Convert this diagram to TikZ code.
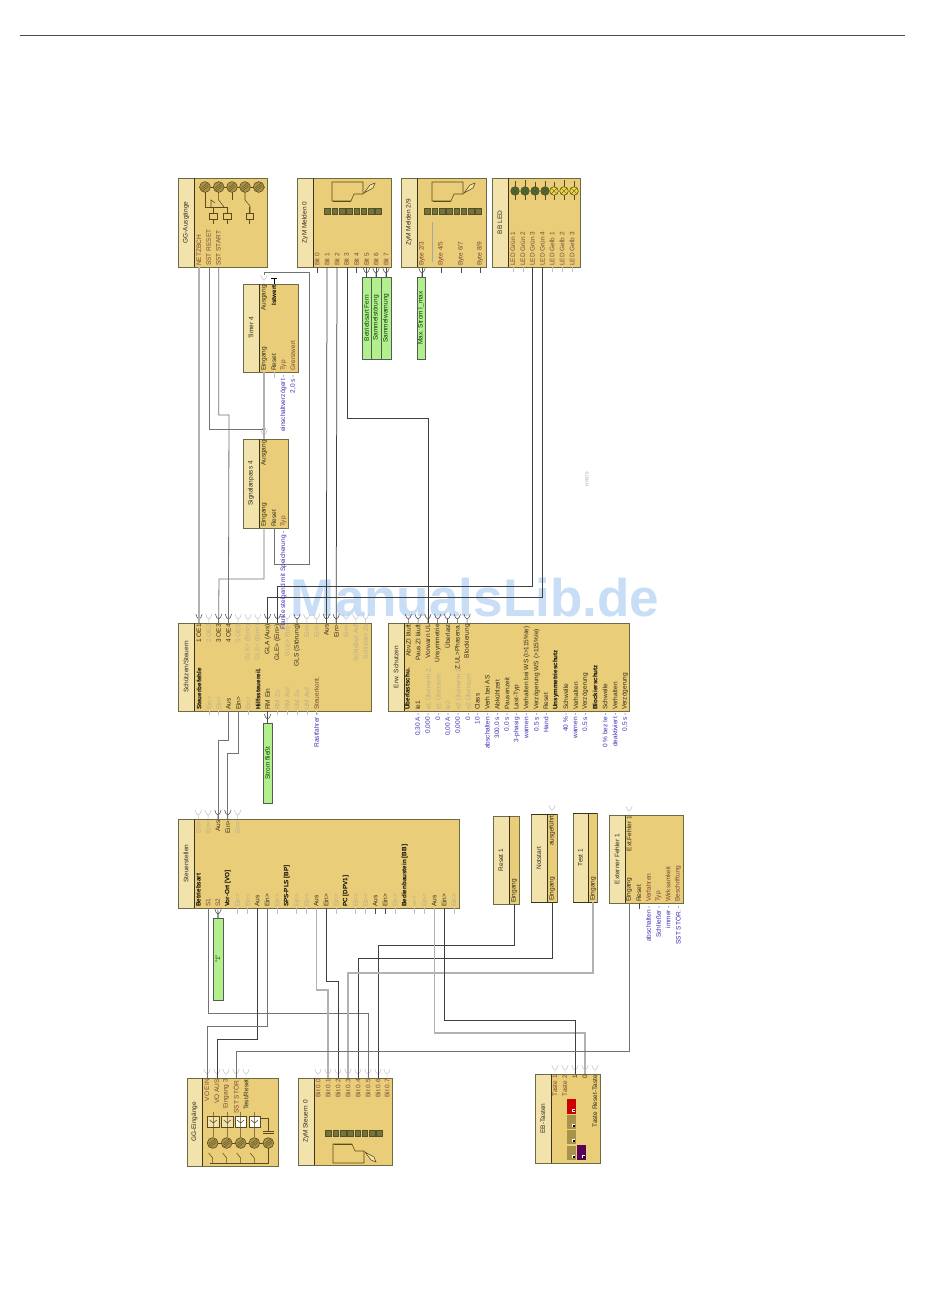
\documentclass[tikz,border=0pt]{standalone}
\usepackage{fontspec}
\setmainfont{Liberation Sans}
\definecolor{bodyc}{HTML}{E9CD78}
\definecolor{titlec}{HTML}{F2E2AC}
\definecolor{edgec}{HTML}{6E6A48}
\definecolor{divc}{HTML}{3A3518}
\definecolor{greyl}{HTML}{B9AF8A}
\definecolor{brownl}{HTML}{7B4A3A}
\definecolor{darkl}{HTML}{332E1E}
\definecolor{bluel}{HTML}{3B2FB5}
\definecolor{greenb}{HTML}{B2F08E}
\definecolor{oliveb}{HTML}{A8924A}
\definecolor{squarec}{HTML}{76733A}
\definecolor{iconl}{HTML}{5A4A1C}
\definecolor{wmark}{HTML}{C8DDF6}
\newcount\nodenum
\tikzset{
  lbl/.style={font=\fontsize{6.5}{6.5}\selectfont,rotate=90,inner sep=0pt,text=darkl},
  dk/.style={text=darkl},
  gy/.style={text=greyl},
  br/.style={text=brownl},
  bl/.style={text=bluel},
  bo/.style={text=black,font=\fontsize{6.3}{6.3}\selectfont\bfseries},
  wd/.style={draw=black!75,line width=.75pt},
  wm/.style={draw=black!55,line width=.8pt},
  wl/.style={draw=black!30,line width=1.1pt},
  pinl/.style={draw=black!25,line width=.45pt},
  pind/.style={draw=black!70,line width=.55pt},
  icon/.style={draw=iconl,line width=.55pt},
}
% block: name x1 y1 x2 y2 xdiv title
\newcommand\Blk[7]{%
  \fill[titlec] (#2,#3) rectangle (#6,#5);
  \fill[bodyc] (#6,#3) rectangle (#4,#5);
  \draw[edgec,line width=.8pt] (#2,#3) rectangle (#4,#5);
  \draw[divc,line width=.9pt] (#6,#3) -- (#6,#5);
  \node[lbl,text=darkl] (#1) at ({(#2+#6)/2},{(#3+#5)/2}) {#7};
}
% labels: style x y text
\newcommand\Lb[4]{\global\advance\nodenum by 1
  \node[lbl,#1,anchor=west] (t\the\nodenum) at ({#2},{#3}) {#4};}
\newcommand\Lt[4]{\global\advance\nodenum by 1
  \node[lbl,#1,anchor=east] (t\the\nodenum) at ({#2},{#3}) {#4};}
% input pin (fork) name x y style
\newcommand\Pin[4]{%
  \coordinate (#1) at ({#2},{#3});
  \draw[#4] ({#2},{#3}) -- ({#2},{#3-4})
    ({#2-3.2},{#3-9}) .. controls ({#2-3},{#3-6}) and ({#2-1},{#3-4.5}) .. ({#2},{#3-4})
    ({#2+3.2},{#3-9}) .. controls ({#2+3},{#3-6}) and ({#2+1},{#3-4.5}) .. ({#2},{#3-4});
}
\newcommand\Green[6]{%
  \fill[greenb] (#2,#3) rectangle (#4,#5);
  \draw[black!65,line width=.7pt] (#2,#3) rectangle (#4,#5);
  \node[lbl,text=green!25!black] (#1) at ({(#2+#4)/2},{(#3+#5)/2}) {#6};
}
\newcommand\Device[1]{%
  \begin{scope}[#1]
    \draw[icon] (0,0) -- (31,0) -- (31,12) -- (22,12) -- (19,19) -- (0,19) -- cycle;
    \draw[icon,line width=1pt] (1,19) -- (19,19);
    \draw[icon,fill=titlec] (32,11) -- (38,3) -- (43,1) -- (41,6) -- cycle;
  \end{scope}
}
\newcommand\Button[5]{%
  \fill[#5] (#1,#2) rectangle (#3,#4);
  \fill[white] (#3-4,#4-5) rectangle (#3-1,#4-2);
  \fill[black] (#3-3,#4-4) rectangle (#3-1.5,#4-2.5);
}
\begin{document}
\begin{tikzpicture}[x=1pt,y=-1pt]
\path[use as bounding box,fill=white] (0,0) rectangle (950,1302);
\draw[black!70,line width=.9pt] (20,35.5) -- (905,35.5);
\node[font=\fontsize{53}{53}\selectfont\bfseries,text=wmark,inner sep=0pt] (wm) at (475,598) {ManualsLib.de};
\node[lbl,font=\fontsize{4.5}{5}\selectfont,text=black!35] (ref) at (587,479) {HR579};

%%%% blocks
\Blk{ga}{178}{178}{267}{267}{194}{GG-Ausgänge}
\Blk{m0}{297}{178}{391}{267}{313}{ZyM Melden 0}
\Blk{m2}{401}{178}{486}{267}{417}{ZyM Melden 2/9}
\Blk{led}{492}{178}{580}{267}{508}{BB LED}
\Blk{tim}{243}{284}{298}{372}{259}{Timer 4}
\Blk{sig}{243}{439}{288}{528}{259}{Signalanpass 4}
\Blk{sch}{178}{623}{371}{711}{194}{Schützen/Steuern}
\Blk{err}{388}{623}{629}{711}{404}{Erw. Schutzen}
\Blk{st}{178}{819}{459}{908}{194}{Steuerstellen}
\Blk{rst}{493}{816}{519}{904}{509}{Reset 1}
\Blk{nts}{531}{814}{557}{902}{547}{Notstart}
\Blk{tst}{573}{813}{597}{902}{588}{Test 1}
\Blk{ext}{609}{815}{683}{903}{625}{Externer Fehler 1}
\Blk{ge}{187}{1078}{278}{1166}{202}{GG-Eingänge}
\Blk{zs}{298}{1078}{392}{1165}{314}{ZyM Steuern 0}
\Blk{eb}{535}{1074}{600}{1163}{551}{EB-Tasten}
\draw[divc,line width=.8pt] (531,814) -- (557,814) (531,902) -- (557,902);
\draw[divc,line width=.8pt] (573,813) -- (597,813) (573,902) -- (597,902);

%%%% green boxes
\Green{gBF}{362}{277}{371}{359}{Betriebsart Fern}
\Green{gSS}{371}{277}{381}{359}{Sammelstörung}
\Green{gSW}{381}{277}{391}{359}{Sammelwarnung}
\Green{gMax}{417}{277}{425}{359}{Max. Strom I\_max}
\Green{gStr}{263}{723}{272}{803}{Strom fließt}
\Green{gEins}{213}{918}{223}{1000}{"1"}

%%%% pins
\coordinate (gaN) at (199,267); \coordinate (gaR) at (209,267); \coordinate (gaS) at (218.7,267);
\foreach \i/\x in {0/317,1/327,2/337,3/347,4/356.5,5/366.5,6/376,7/386}{\coordinate (m0B\i) at (\x,267);}
\foreach \x in {317,356.5}{\draw[pind] (\x,267) -- (\x,273);}
\foreach \x in {366.5,376,386}{\draw[pind] (\x,267) -- (\x,277);}
\Pin{pBF}{366.5}{277}{pind}\Pin{pSS}{376}{277}{pind}\Pin{pSW}{386}{277}{pind}
\draw[pind] (422,267) -- (422,277); \Pin{pMx}{422}{277}{pind}
\foreach \x in {441,461,480}{\draw[pind] (\x,267) -- (\x,273);}
\foreach \x in {513,523,552,562,572}{\draw[pinl] (\x,267) -- (\x,272);}
\coordinate (ledG3) at (532.5,267); \coordinate (ledG4) at (542.5,267);
% Timer / Signal
\Pin{timA}{264}{284}{pinl}
\draw[black,line width=1pt] (274,278) -- (274,284) (271,278) -- (277,278);
\coordinate (timE) at (264,372); \draw[pinl] (274,372) -- (274,378);
\Pin{sigA}{264}{439}{pinl}
\coordinate (sigE) at (264,528); \coordinate (sigR) at (274,528);
% Schuetzen top
\foreach \i in {1,...,18}{\coordinate (schT\i) at ({199+(\i-1)*9.8},623);}
\foreach \i in {2,5,6,7,10,12,13,16,17,18}{\Pin{pa\i}{199+(\i-1)*9.8}{623}{pinl}}
\foreach \i in {1,3,4,8,9,11,14,15}{\Pin{pb\i}{199+(\i-1)*9.8}{623}{pind}}
% Schuetzen bottom
\foreach \i in {0,...,13}{\coordinate (schB\i) at ({199+\i*9.8},711);}
\foreach \i in {1,2,5,8,9,10,11,12}{\draw[pinl] ({199+\i*9.8},711) -- ({199+\i*9.8},715);}
\draw[pind] (267.6,711) -- (267.6,723); \Pin{pStr}{267.6}{723}{pind}
% Err top
\foreach \i in {1,...,7}{\coordinate (errT\i) at ({408.3+(\i-1)*9.8},623);\Pin{pe\i}{408.3+(\i-1)*9.8}{623}{pind}}
% Steuer top and bottom
\foreach \i in {0,...,4}{\coordinate (stT\i) at ({198.3+\i*9.83},819);}
\foreach \i in {0,1,4}{\Pin{ps\i}{198.3+\i*9.83}{819}{pinl}}
\foreach \i in {2,3}{\Pin{ps\i}{198.3+\i*9.83}{819}{pind}}
\foreach \i in {0,...,26}{\coordinate (stB\i) at ({198.3+\i*9.83},908);}
\foreach \i in {4,5,8,10,11,14,16,17,20,22,23,26}{\draw[pinl] ({198.3+\i*9.83},908) -- ({198.3+\i*9.83},914);}
\foreach \i in {18,19}{\draw[pind] ({198.3+\i*9.83},908) -- ({198.3+\i*9.83},914);}
\draw[pind] (stB2) -- (218,918); \Pin{pEins}{218}{918}{pind}
% single blocks
\coordinate (rstE) at (514,904); \coordinate (notE) at (552,902); \coordinate (tstE) at (593,902);
\coordinate (extE) at (629,903); \draw[pind] (639,903) -- (639,909);
\Pin{pNot}{552}{814}{pinl}\Pin{pExt}{629}{815}{pinl}
% Eingaenge
\foreach \i/\x in {1/207,2/217,3/226,4/236,5/246}{\coordinate (geB\i) at (\x,1078);\Pin{pg\i}{\x}{1078}{pinl}}
\foreach \i/\x in {0/318,1/328,2/338,3/348,4/358,5/368,6/378,7/387}{\coordinate (zsB\i) at (\x,1078);\Pin{pz\i}{\x}{1078}{pinl}}
\foreach \i/\x in {1/555,2/565,3/575,4/585,5/595}{\coordinate (ebB\i) at (\x,1074);\Pin{pq\i}{\x}{1074}{pinl}}

%%%% wires
\draw[wl] (gaN) -- (schT1);
\draw[wm] (gaR) |- (264,429) -- (sigA);
\fill[black] (264,429) circle (1.6);
\draw[wl] (timE) -- (sigA);
\draw[wm] (gaS) |- (229,415) -- (schT4);
\draw[wm] (sigE) |- (219,579) -- (schT3);
\draw[wm] (264,275) -- (264,272) -- (309,272) -- (309,564) -- (274,564) -- (sigR);
\draw[wd] (m0B1) -- (schT14);
\draw[wd] (m0B2) -- (schT15);
\draw[wd] (m0B3) -- (m0B3 |- 0,418) -| (errT3);
\draw[wd] (ledG3) -- (ledG3 |- 0,586) -| (schT9);
\draw[wd] (ledG4) -- (ledG4 |- 0,597) -| (schT8);
\draw[wm] (schB3) -- (schB3 |- 0,740) -| (stT2);
\draw[wm] (schB4) -- (schB4 |- 0,753) -| (stT3);
\draw[wm] (stB1) -- (stB1 |- 0,1013) -| (zsB5);
\draw[wd] (stB6) -- (stB6 |- 0,1039) -| (geB2);
\draw[wm] (stB7) -- (stB7 |- 0,1026) -| (geB1);
\draw[wl] (stB12) -- (stB12 |- 0,990) -| (zsB1);
\draw[wd] (stB13) -- (stB13 |- 0,981) -| (zsB2);
\draw[wd] (rstE) -- (rstE |- 0,945) -| (zsB6);
\draw[wd] (notE) -- (notE |- 0,958) -| (zsB4);
\draw[wl] (tstE) -- (tstE |- 0,973) -| (zsB3);
\draw[wl] (stB24) -- (stB24 |- 0,1033) -| (ebB4);
\draw[wd] (stB25) -- (stB25 |- 0,1020) -| (ebB3);
\draw[wm] (extE) -- (extE |- 0,1051) -| (geB4);

%%%% labels GG-Ausgaenge
\Lb{br}{199}{266}{NETZBCH}\Lb{br}{208.7}{266}{SST RESET}\Lb{br}{218.5}{266}{SST START}
%%%% Melden 0
\foreach \i/\x in {0/317,1/327,2/337,3/346.5,4/356.5,5/366.5,6/376,7/386}{\Lb{br}{\x}{266}{Bit \i}}
%%%% Melden 2/9
\Lb{br}{422}{266}{Byte 2/3}\Lb{br}{441}{266}{Byte 4/5}\Lb{br}{461}{266}{Byte 6/7}\Lb{br}{480}{266}{Byte 8/9}
%%%% LED
\Lb{br}{513}{266}{LED Grün 1}\Lb{br}{523}{266}{LED Grün 2}\Lb{br}{532.5}{266}{LED Grün 3}\Lb{br}{542.5}{266}{LED Grün 4}
\Lb{br}{552}{266}{LED Gelb 1}\Lb{br}{562}{266}{LED Gelb 2}\Lb{br}{572}{266}{LED Gelb 3}
%%%% Timer
\Lt{dk}{264}{285}{Ausgang}\Lt{bo}{274}{285}{Istwert}
\Lb{dk}{264}{371}{Eingang}\Lb{dk}{274}{371}{Reset}\Lb{br}{283.5}{371}{Typ}\Lb{br}{293}{371}{Grenzwert}
\Lt{bl}{283.5}{375}{einschaltverzögert -}\Lt{bl}{293}{375}{2,0 s -}
%%%% Signal
\Lt{dk}{264}{440}{Ausgang}
\Lb{dk}{264}{527}{Eingang}\Lb{dk}{274}{527}{Reset}\Lb{br}{283.5}{527}{Typ}
\Lt{bl}{283.5}{531}{Flanke steigend mit Speicherung -}
%%%% Schuetzen top
\Lt{dk}{199}{624}{1 OE1}\Lt{gy}{208.8}{624}{2 OE2}\Lt{dk}{218.6}{624}{3 OE3}\Lt{dk}{228.4}{624}{4 OE4}\Lt{gy}{238.2}{624}{5 OE5}
\Lt{gy}{248}{624}{GLE> (Ein>)}\Lt{gy}{257.8}{624}{GLE< (Ein<)}\Lt{dk}{267.6}{624}{GLA (Aus)}\Lt{dk}{277.4}{624}{GLE> (Ein>)}
\Lt{gy}{287.2}{624}{GLE> Ein>}\Lt{dk}{297}{624}{GLS (Störung)}\Lt{gy}{306.8}{624}{Ein>}\Lt{gy}{316.6}{624}{Ein<}
\Lt{dk}{326.4}{624}{Aus}\Lt{dk}{336.2}{624}{Ein>}\Lt{gy}{346}{624}{Ein>}\Lt{gy}{355.8}{624}{Schieber Auf}\Lt{gy}{365.6}{624}{Schieber Zu}
%%%% Schuetzen bottom
\Lb{bo}{199}{710}{Steuerbefehle}\Lb{gy}{209}{710}{Ein>}\Lb{gy}{218.6}{710}{Ein>}\Lb{dk}{228.4}{710}{Aus}\Lb{dk}{238.2}{710}{Ein>}\Lb{gy}{248}{710}{Ein>}
\Lb{bo}{258}{710}{Hilfssteuereil.}\Lb{dk}{267.6}{710}{RM Ein}\Lb{gy}{277.4}{710}{RM Zu}\Lb{gy}{287.2}{710}{RM Auf}\Lb{gy}{297}{710}{UM Zu}\Lb{gy}{306.8}{710}{UM Auf}
\Lb{br}{316.6}{710}{Steuerkont.}
\Lt{bl}{316.6}{713}{Rastfahrer -}
%%%% Err top
\Lt{dk}{408.3}{624}{Abv.ZI läuft}\Lt{dk}{418.1}{624}{Paus.ZI läuft}\Lt{dk}{427.9}{624}{Vorwarn UL}\Lt{dk}{437.7}{624}{Unsymmetrie}
\Lt{dk}{447.5}{624}{Überlast}\Lt{dk}{457.3}{624}{Z.UL>Phasena.}\Lt{dk}{467.1}{624}{Blockierung}
%%%% Err bottom
\Lb{bo}{407}{710}{Überlastschu.}
\foreach \x/\t/\v/\s in {
 418/{Ie1}/{0,30 A -}/{dk},
 428/{e1 Überwrm Z.}/{0,000 -}/{gy},
 438/{e1 Übersum}/{0 -}/{gy},
 448/{Ie2}/{0,00 A -}/{gy},
 458/{e2 Überwrm Z.}/{0,000 -}/{gy},
 468/{e2 Übersum}/{0 -}/{gy},
 477.3/{Class}/{10 -}/{dk},
 487.3/{Verh bei AS}/{abschalten -}/{dk},
 497.3/{Abkühlzeit}/{300,0 s -}/{dk},
 507/{Pausenzeit}/{0,0 s -}/{dk},
 516.7/{Last-Typ}/{3-phasig -}/{dk},
 526.7/{Verhalten bei WS (I>115\%Ie)}/{warnen -}/{dk},
 536.7/{Verzögerung WS (>115\%Ie)}/{0,5 s -}/{dk},
 546/{Reset}/{Hand -}/{dk},
 565.7/{Schwelle}/{40 \% -}/{dk},
 575.7/{Verhalten}/{warnen -}/{dk},
 585.3/{Verzögerung}/{0,5 s -}/{dk},
 605/{Schwelle}/{0 \% bez Ie -}/{dk},
 615/{Verhalten}/{deaktiviert -}/{dk},
 625/{Verzögerung}/{0,5 s -}/{dk}}{
  \expandafter\Lb\expandafter{\s}{\x}{710}{\t}\Lt{bl}{\x}{713}{\v}}
\Lb{bo}{555.7}{710}{Unsymmetrieschutz}\Lb{bo}{595}{710}{Blockierschutz}
%%%% Steuerstellen top
\Lt{gy}{198.3}{820}{Ein>}\Lt{gy}{208.1}{820}{Ein<}\Lt{dk}{218}{820}{Aus}\Lt{dk}{227.8}{820}{Ein>}\Lt{gy}{237.6}{820}{Ein>}
%%%% Steuerstellen bottom
\foreach \i/\t/\s in {0/{Betriebsart}/bo,1/{S1}/br,2/{S2}/br,3/{Vor-Ort [VO]}/bo,4/{Ein>}/gy,5/{Ein<}/gy,6/{Aus}/dk,7/{Ein>}/dk,8/{Ein>}/gy,
 9/{SPS-PLS [BP]}/bo,10/{Ein>}/gy,11/{Ein<}/gy,12/{Aus}/dk,13/{Ein>}/dk,14/{Ein>}/gy,15/{PC [DPV1]}/bo,16/{Ein>}/gy,17/{Ein<}/gy,18/{Aus}/dk,19/{Ein>}/dk,20/{Ein>}/gy,
 21/{Bedienbaustein [BB]}/bo,22/{<<<<<}/gy,23/{Ein<}/gy,24/{Aus}/dk,25/{Ein>}/dk,26/{Ein>}/gy}{
  \expandafter\Lb\expandafter{\s}{198.3+\i*9.83}{907}{\t}}
%%%% singles
\Lb{dk}{514}{903}{Eingang}
\Lb{dk}{552}{901}{Eingang}\Lt{dk}{552}{815}{ausgeführt}
\Lb{dk}{593}{901}{Eingang}
\Lt{dk}{629}{816}{Ext.Fehler 1}
\Lb{dk}{629}{902}{Eingang}\Lb{dk}{639}{902}{Reset}\Lb{br}{648.5}{902}{Verfahren}\Lb{br}{658.5}{902}{Typ}\Lb{br}{668}{902}{Wirksamkeit}\Lb{br}{678}{902}{Beschriftung}
\Lt{bl}{648.5}{906}{abschalten -}\Lt{bl}{658.5}{906}{Schließer -}\Lt{bl}{668}{906}{immer -}\Lt{bl}{678}{906}{SST STÖR. -}
%%%% bottom blocks labels
\Lt{br}{207}{1079}{VO EIN}\Lt{br}{217}{1079}{VO AUS}\Lt{br}{226}{1079}{Eingang 3}\Lt{br}{236}{1079}{SST STÖR.}\Lt{dk}{246}{1079}{Test/Reset}
\foreach \i/\x in {0/318,1/328,2/338,3/348,4/358,5/368,6/378,7/387}{\Lt{br}{\x}{1079}{Bit 0.\i}}
\Lt{br}{555}{1075}{Taste 1}\Lt{br}{565}{1075}{Taste 2}\Lt{dk}{575}{1075}{1}\Lt{dk}{585}{1075}{0}\Lt{dk}{595}{1075}{Taste Reset-Taste}

%%%% icons: GG-Ausgaenge
\draw[icon] (199,187) -- (265,187);
\foreach \x in {205,218.7,232,245,258.7}{
  \draw[icon,fill=oliveb] (\x,187) circle (5.4);
  \draw[icon,line width=.35pt] (\x-3.5,189.5) -- (\x+3.5,184.5) (\x-2.5,191) -- (\x+3.5,186.5) (\x-3.5,187.5) -- (\x+2.5,183);}
\draw[icon] (205,192) -- (205,207) -- (227,207);
\draw[icon] (218.7,192) -- (218.7,200) -- (224,207);
\draw[icon] (232,192) -- (232,200);
\draw[icon] (211,207) -- (211,200) -- (215,203);
\draw[icon] (245,192) -- (245,200) -- (250,206) -- (250,213);
\foreach \a/\b in {209/217,223/231,246/253}{
  \draw[icon] (\a,213) rectangle (\b,219);
  \draw[icon] ({(\a+\b)/2},207) -- ({(\a+\b)/2},213) ({(\a+\b)/2},219) -- ({(\a+\b)/2},224);}
%%%% icons: Melden
\Device{shift={(332,182)}}
\foreach \k in {0,...,7}{\draw[squarec!70!black,fill=squarec,line width=.3pt] (324.5+\k*7.3,208.5) rectangle +(5.6,5.4);}
\Device{shift={(432,182)}}
\foreach \k in {0,...,7}{\draw[squarec!70!black,fill=squarec,line width=.3pt] (424.5+\k*7.3,208.5) rectangle +(5.6,5.4);}
\draw[black!35,line width=.5pt] (432,222) -- (432,262);
%%%% icons: LED
\foreach \x/\c/\h in {515/4D6A36/181,525/4D6A36/180,535/4D6A36/182,545/4D6A36/181,554/E8D840/182,564/E8D840/180,574/E8D840/181}{
  \definecolor{ledc}{HTML}{\c}
  \draw[icon] (\x,\h) -- (\x,200);
  \draw[icon,fill=ledc] (\x,191) circle (4.3);
  \draw[icon,line width=.35pt] (\x-3,188) -- (\x+3,194) (\x-3,194) -- (\x+3,188);}
%%%% icons: GG-Eingaenge
\foreach \a/\s in {207.7/titlec,221.7/titlec,235/white,249/white}{
  \draw[icon,fill=\s] (\a,1116) rectangle +(11.3,11);
  \draw[icon] (\a+5.6,1112) -- (\a+5.6,1137) (\a+2,1120) -- (\a+5.6,1123) -- (\a+9,1120);}
\draw[icon] (261,1118) -- (268.3,1118) -- (268.3,1131) (263,1131) -- (273.5,1131) (263,1133.5) -- (273.5,1133.5);
\draw[icon] (207,1143) -- (274,1143);
\foreach \x in {212.7,226.7,240.7,254.3,268.3}{
  \draw[icon,fill=oliveb] (\x,1143) circle (5.4);
  \draw[icon,line width=.35pt] (\x-3.5,1145.5) -- (\x+3.5,1140.5) (\x-2.5,1147) -- (\x+3.5,1142.5) (\x-3.5,1143.5) -- (\x+2.5,1139);}
\draw[icon] (210,1163) -- (268.3,1163) -- (268.3,1148);
\foreach \x in {212.7,226.7,240.7,254.3}{\draw[icon] (\x,1163) -- (\x,1158) -- (\x-4,1153);}
%%%% icons: Steuern
\Device{shift={(333,1163)},yscale=-1}
\foreach \k in {0,...,7}{\draw[squarec!70!black,fill=squarec,line width=.3pt] (325.5+\k*7.3,1130.5) rectangle +(5.6,5.4);}
%%%% icons: Tasten
\Button{566.7}{1098.7}{576}{1113.7}{red!80!black}
\Button{566.7}{1115}{576}{1129}{oliveb}
\Button{566.7}{1130}{576}{1144.3}{oliveb}
\Button{566.7}{1145.7}{576}{1160}{oliveb}
\Button{577}{1145}{586.3}{1160}{violet!70!black}
\end{tikzpicture}
\end{document}
